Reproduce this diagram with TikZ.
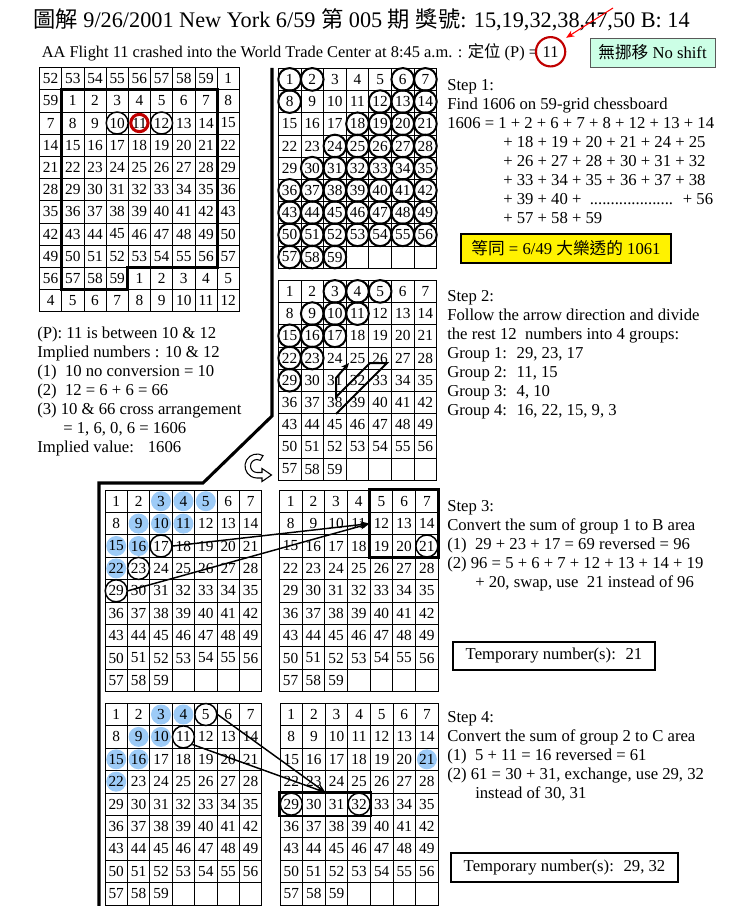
\documentclass[tikz,border=0pt]{standalone}
\usepackage{fontspec}
\setmainfont{Liberation Serif}
\newfontfamily\cjk{Noto Sans CJK TC}
\usetikzlibrary{arrows.meta,positioning}
\pgfdeclarelayer{back}
\pgfsetlayers{back,main}
\definecolor{dotblue}{HTML}{9DCBF7}
\definecolor{shiftgreen}{HTML}{CCFFE6}
\definecolor{ringred}{HTML}{C00000}

\begin{document}
\begin{tikzpicture}[x=0.75pt,y=-0.75pt]
	\tikzset{cell/.style={draw, line width=0.6pt, inner sep=0pt, font=\fontsize{11.5}{12}\selectfont},
		ring/.style={draw, circle, line width=#1, minimum size=16.5pt, inner sep=0pt},
		ring/.default=1.1pt,
		bluedot/.style={circle, fill=dotblue, minimum size=15pt, inner sep=0pt},
		txt/.style={anchor=north west, inner sep=0pt, align=left, font=\fontsize{12.5}{14.25}\selectfont},
		tagbox/.style={draw, inner sep=0pt, font=\fontsize{12.5}{14.25}\selectfont},
		divider/.style={line width=2.3pt},
		link/.style={line width=1.1pt, -{Stealth[length=7pt,width=5pt]}}}
	\useasboundingbox (0,0) rectangle (740,906);
	
	% Heading
	\node[anchor=west, inner sep=0pt, font=\fontsize{16.7}{18}\selectfont] (title) at (33,20) {{\cjk 圖解} 9/26/2001 New York 6/59 {\cjk 第} 005 {\cjk 期} {\cjk 獎號}: 15,19,32,38,47,50 B: 14};
	\node[anchor=west, inner sep=0pt, font=\fontsize{12.3}{14}\selectfont] (flight) at (41.5,52) {AA Flight 11 crashed into the World Trade Center at 8:45 a.m. : {\cjk 定位} (P) =};
	\node[anchor=base west, inner sep=0pt, font=\fontsize{12.3}{14}\selectfont] (pval) at ([xshift=3pt]flight.base east) {11};
	\node[draw=ringred, circle, line width=1.6pt, minimum size=22pt] (pring) at (pval) {};
	\coordinate (redstart) at (613,8);
	\draw[red, line width=0.8pt, -{Stealth[length=6pt,width=5pt]}, shorten >=4pt] (redstart) -- (pring.45);
	\node[tagbox, fill=shiftgreen, draw=gray!70!black, minimum width=93.75pt, minimum height=21.75pt] (noshift) at (652.5,52.5) {{\cjk 無挪移} No shift};
	
	% 59-grid chessboard with wrap-around border
	\foreach \r in {0,...,10}{
		\foreach \c in {0,...,8}{
			\pgfmathtruncatemacro{\v}{mod((\r-1)*7+\c+117,59)+1}
			\node[cell, minimum width=16.65pt, minimum height=16.65pt] (L-\r-\c) at ({39.5+(\c+0.5)*22.2},{67.5+(\r+0.5)*22.2}) {\v};
		}
	}
	\draw[divider] (L-1-1.north west) -- (L-1-7.north east) -- (L-8-7.south east) -- (L-8-4.south west) -- (L-9-4.south west) -- (L-9-1.south west) -- cycle;
	\node[ring] at (L-2-3) {};
	\node[ring] at (L-2-5) {};
	\node[draw=ringred, circle, line width=2.3pt, minimum size=13pt, inner sep=0pt] at (L-2-4) {};
	
	% Six 7-column grids
	\foreach \g/\gx/\gy/\gw/\gh in {s1/278.3/68.3/22.63/22.2, s2/278.3/280.3/22.63/22.2, s3a/105/490/22.4/22.4, s3b/279.3/490/22.7/22.4, s4a/105/703.3/22.4/22.4, s4b/280/703.3/22.6/22.4}{
		\foreach \r in {0,...,8}{
			\foreach \c in {0,...,6}{
				\pgfmathtruncatemacro{\v}{\r*7+\c+1}
				\node[cell, minimum width=\gw*0.75pt, minimum height=\gh*0.75pt] (\g-\v) at ({\gx+(\c+0.5)*\gw},{\gy+(\r+0.5)*\gh}) {\ifnum\v<60 \v\fi};
			}
		}
	}
	
	% Step 1 and step 2 marks
	\foreach \v in {1,2,6,7,8,12,13,14,18,19,20,21,24,25,26,27,28}
		\node[ring=1.5pt, minimum size=17pt] at (s1-\v) {};
	\foreach \v in {30,31,...,59}
		\node[ring=1.5pt, minimum size=17pt] at (s1-\v) {};
	\foreach \v in {3,4,5,9,10,11,15,16,17,22,23,29}
		\node[ring=1.5pt, minimum size=17pt] at (s2-\v) {};
	\draw[line width=1.5pt, -{Stealth[length=6pt,width=5pt]}] (336,414) -- (387,363) -- (370,363) -- (336,397) -- (336,378) -- (349,363);
	
	% Separator and turn arrow
	\draw[divider] (272,68) -- (272,416) -- (203,483) -- (99,483) -- (99,906);
	\filldraw[fill=white, line width=0.8pt] (257,466) ++(-60:12) arc[start angle=-60, end angle=-270, radius=12] -- (262,478) -- (262,481.5) -- (271.5,475) -- (262,468.5) -- (262,472.5) -- (257,472.5) arc[start angle=-270, end angle=-60, radius=6.5] -- cycle;
	
	% Step 3 and step 4 marks
	\begin{pgfonlayer}{back}
		\foreach \v in {3,4,5,9,10,11,15,16,22}
			\node[bluedot] at (s3a-\v) {};
		\foreach \v in {3,4,9,10,15,16,22}
			\node[bluedot] at (s4a-\v) {};
		\node[bluedot] at (s4b-21) {};
	\end{pgfonlayer}
	\foreach \v in {17,23,29}
		\node[ring] (o3-\v) at (s3a-\v) {};
	\node[ring] at (s3b-21) {};
	\draw[divider] (s3b-5.north west) rectangle (s3b-21.south east);
	\draw[link] (o3-17.east) -- (s3b-12.west);
	\draw[link] (o3-29.east) -- (s3b-12.west);
	\foreach \v in {5,11}
		\node[ring] (o4-\v) at (s4a-\v) {};
	\foreach \v in {29,32}
		\node[ring] at (s4b-\v) {};
	\draw[line width=1.8pt] (s4b-29.north west) rectangle (s4b-32.south east);
	\draw[link] (o4-5.east) -- (s4b-30.north east);
	\draw[link] (o4-11.-40) -- (s4b-30.north east);
	
	% Explanations
	\node[txt] (step1) at (447,79) {Step 1:\\Find 1606 on 59-grid chessboard\\1606 = 1 + 2 + 6 + 7 + 8 + 12 + 13 + 14\\\hspace*{42pt}+ 18 + 19 + 20 + 21 + 24 + 25\\\hspace*{42pt}+ 26 + 27 + 28 + 30 + 31 + 32\\\hspace*{42pt}+ 33 + 34 + 35 + 36 + 37 + 38\\\hspace*{42pt}+ 39 + 40 +~ .................... ~+ 56\\\hspace*{42pt}+ 57 + 58 + 59};
	\node[tagbox, fill=yellow, line width=1.2pt, minimum width=157.5pt, minimum height=21.75pt] (lotto) at (566,248.5) {{\cjk 等同} = 6/49 {\cjk 大樂透的} 1061};
	\node[txt] (hint) at (37,327) {(P): 11 is between 10 \& 12\\Implied numbers : 10 \& 12\\(1)~ 10 no conversion = 10\\(2)~ 12 = 6 + 6 = 66\\(3) 10 \& 66 cross arrangement\\\hspace*{19.5pt}= 1, 6, 0, 6 = 1606\\Implied value:~~ 1606};
	\node[txt] (step2) at (447,290) {Step 2:\\Follow the arrow direction and divide\\the rest 12~ numbers into 4 groups:\\Group 1:~ 29, 23, 17\\Group 2:~ 11, 15\\Group 3:~ 4, 10\\Group 4:~ 16, 22, 15, 9, 3};
	\node[txt] (step3) at (447,500) {Step 3:\\Convert the sum of group 1 to B area\\(1)~ 29 + 23 + 17 = 69 reversed = 96\\(2) 96 = 5 + 6 + 7 + 12 + 13 + 14 + 19\\\hspace*{21pt}+ 20, swap, use~ 21 instead of 96};
	\node[tagbox, line width=0.8pt, minimum width=151.5pt, minimum height=21pt] (temp3) at (554,656) {Temporary number(s):~ 21};
	\node[txt] (step4) at (447,711) {Step 4:\\Convert the sum of group 2 to C area\\(1)~ 5 + 11 = 16 reversed = 61\\(2) 61 = 30 + 31, exchange, use 29, 32\\\hspace*{21pt}instead of 30, 31};
	\node[tagbox, line width=0.8pt, minimum width=170.25pt, minimum height=21.75pt] (temp4) at (564.5,867.5) {Temporary number(s):~ 29, 32};
\end{tikzpicture}
\end{document}
